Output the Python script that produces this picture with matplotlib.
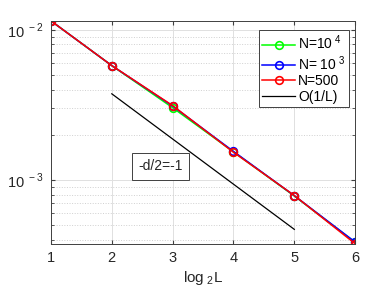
import numpy as np
import matplotlib
matplotlib.use('Agg')
import matplotlib.pyplot as plt
from matplotlib.ticker import LogLocator, FixedLocator, NullFormatter

plt.rcParams['font.family'] = ['Liberation Sans', 'DejaVu Sans']
plt.rcParams['mathtext.fontset'] = 'custom'
plt.rcParams['mathtext.rm'] = 'Liberation Sans'

# data
log2L = [1, 2, 3, 4, 5, 6]
err_N1e4 = [0.01148, 0.00578, 0.00303, 0.00154, 0.000782, 0.000384]
err_N1e3 = [0.01148, 0.00578, 0.00311, 0.00155, 0.000786, 0.000386]
err_N500 = [0.01148, 0.00578, 0.00313, 0.00153, 0.000788, 0.000376]
ref_x = [2, 5]
ref_y = [0.00375, 0.00375 / 8]

fig = plt.figure(figsize=(3.92, 2.94), dpi=100)
ax = fig.add_axes([0.130, 0.170, 0.776, 0.759])

mk = dict(marker='o', markerfacecolor='none', markersize=5.5, markeredgewidth=1.2, linewidth=1.1)
ax.plot(log2L, err_N1e4, color='#00ff00', markeredgecolor='#00ff00', label='N=10$^{\\ 4}$', **mk)
ax.plot(log2L, err_N1e3, color='#0000ff', markeredgecolor='#0000ff', label='N= 10$^{\\ 3}$', **mk)
ax.plot(log2L, err_N500, color='#ff0000', markeredgecolor='#ff0000', label='N=500', **mk)
ax.plot(ref_x, ref_y, color='black', linewidth=0.9, label='O(1/L)')

ax.set_yscale('log')
ax.set_xlim(1, 6)
ax.set_ylim(10 ** -3.4267, 10 ** -1.94)
ax.set_xticks(log2L)
ax.yaxis.set_major_locator(FixedLocator([1e-3, 1e-2]))
ax.set_yticklabels(['10$^{\\ -3}$', '10$^{\\ -2}$'])
ax.yaxis.set_minor_locator(LogLocator(base=10, subs=np.arange(2, 10)))
ax.yaxis.set_minor_formatter(NullFormatter())

ax.grid(True, which='major', color='#e0e0e0', linewidth=0.7)
ax.grid(True, which='minor', axis='y', color='#d0d0d0', linestyle=':', linewidth=0.7)
ax.set_axisbelow(True)

ax.tick_params(which='both', direction='in', top=True, right=True, colors='#404040',
               labelcolor='#262626', labelsize=10.5)
ax.tick_params(which='major', length=3, pad=5)
ax.tick_params(which='minor', length=2)
for s in ax.spines.values():
    s.set_color('#404040')
    s.set_linewidth(0.7)

ax.set_xlabel('log$_{\\ 2}$L', fontsize=11, color='#262626', labelpad=3)

leg = ax.legend(loc='upper right', bbox_to_anchor=(0.99, 0.97), fontsize=10,
                fancybox=False, framealpha=1, edgecolor='#404040',
                handlelength=2.4, handletextpad=0.2, borderpad=0.25, labelspacing=0.12,
                borderaxespad=0.2)
leg.get_frame().set_linewidth(0.7)

ax.text(2.44, 10 ** -2.91, '-d/2=-1', fontsize=10, color='#262626', va='center', ha='left',
        bbox=dict(boxstyle='square,pad=0.45', facecolor='white', edgecolor='#404040', linewidth=0.7))

fig.savefig('out.png', dpi=100)
